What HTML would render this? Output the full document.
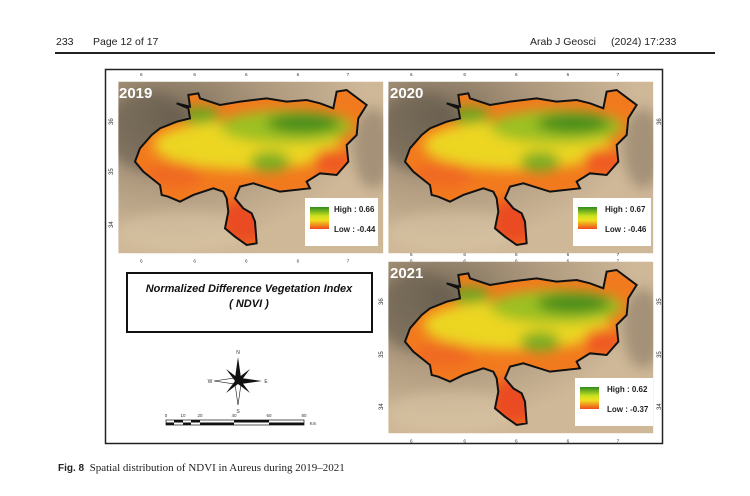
<!DOCTYPE html>
<html><head><meta charset="utf-8"><style>
html,body{margin:0;padding:0;background:#fff;}
body{width:750px;height:496px;position:relative;overflow:hidden;font-family:"Liberation Sans",sans-serif;}
.h{position:absolute;top:36px;font-size:10.5px;color:#222;font-family:"Liberation Sans Narrow","Liberation Sans",sans-serif;}
</style></head><body>
<div class="h" style="left:56px">233</div>
<div class="h" style="left:93px">Page 12 of 17</div>
<div class="h" style="left:530px">Arab J Geosci</div>
<div class="h" style="left:611px">(2024) 17:233</div>
<div style="position:absolute;left:55px;top:52px;width:660px;height:1.5px;background:#222"></div>
<div style="position:absolute;left:58px;top:462px;font-size:11px;font-family:'Liberation Serif',serif;color:#222"><b style="font-family:'Liberation Sans',sans-serif;font-size:10px">Fig. 8</b>&nbsp; Spatial distribution of NDVI in Aureus during 2019–2021</div>
<svg width="750" height="496" style="position:absolute;left:0;top:0" xmlns="http://www.w3.org/2000/svg">
<defs>
<radialGradient id="bgd" cx="0.2" cy="0.2" r="0.75"><stop offset="0" stop-color="#7a6d5a"/><stop offset="0.5" stop-color="#ad987d"/><stop offset="1" stop-color="#cfb898"/></radialGradient>
<linearGradient id="leg" x1="0" y1="0" x2="0" y2="1"><stop offset="0" stop-color="#2e8a1e"/><stop offset="0.4" stop-color="#c8e020"/><stop offset="0.6" stop-color="#f0e020"/><stop offset="1" stop-color="#f04a1a"/></linearGradient>
<filter id="bl" x="-50%" y="-50%" width="200%" height="200%"><feGaussianBlur stdDeviation="18"/></filter>
<clipPath id="rc"><rect x="55" y="50" width="795" height="515"/></clipPath>
<clipPath id="cp"><path id="shp" d="M230,115 L270,125 265,90 295,85 300,100 360,120 420,110 500,100 560,110 620,105 660,115 700,130 710,80 740,75 800,120 775,160 770,210 740,240 745,290 710,330 660,325 620,350 630,370 540,380 460,355 420,365 405,400 430,430 455,445 465,470 470,535 440,540 405,515 375,490 385,440 380,400 370,380 340,370 280,390 240,410 205,395 185,390 180,360 130,320 105,290 120,250 155,210 180,190 230,170 270,160 265,130 Z"/></clipPath>
<g id="panel">
<g clip-path="url(#rc)">
<rect x="55" y="50" width="795" height="515" fill="url(#bgd)"/>
<ellipse cx="150" cy="200" rx="130" ry="120" fill="#5e564a" opacity="0.5" filter="url(#bl)"/>
<ellipse cx="820" cy="250" rx="60" ry="120" fill="#7a6c58" opacity="0.5" filter="url(#bl)"/>
<ellipse cx="250" cy="500" rx="200" ry="60" fill="#d8c4a4" opacity="0.6" filter="url(#bl)"/>
</g>
<g clip-path="url(#cp)">
<rect x="90" y="70" width="730" height="480" fill="#f27a1e"/>
<g filter="url(#bl)">
<ellipse cx="440" cy="240" rx="280" ry="75" fill="#ecd624"/>
<ellipse cx="560" cy="185" rx="200" ry="50" fill="#9cc024"/>
<ellipse cx="610" cy="175" rx="110" ry="30" fill="#4a8e1e"/>
<ellipse cx="300" cy="150" rx="60" ry="25" fill="#6aa420"/>
<ellipse cx="510" cy="290" rx="60" ry="30" fill="#7aae22"/>
<ellipse cx="430" cy="470" rx="70" ry="70" fill="#ea4c22"/>
<ellipse cx="700" cy="290" rx="60" ry="40" fill="#ef5a20"/>
<ellipse cx="220" cy="330" rx="90" ry="40" fill="#f06a22"/>
</g>
</g>
<use href="#shp" fill="none" stroke="#111" stroke-width="6"/>
<g font-size="14" fill="#333" font-family="Liberation Sans">
<text x="120" y="33">6</text><text x="280" y="33">6</text><text x="435" y="33">6</text><text x="590" y="33">6</text><text x="740" y="33">7</text>
<text x="120" y="592">6</text><text x="280" y="592">6</text><text x="435" y="592">6</text><text x="590" y="592">6</text><text x="740" y="592">7</text>
</g>
</g>
</defs>
<rect x="105.5" y="69.5" width="557" height="374" fill="#fff" stroke="#222" stroke-width="1.5"/>
<use href="#panel" transform="translate(100,65) scale(0.3333)"/>
<use href="#panel" transform="translate(370,65) scale(0.3333)"/>
<use href="#panel" transform="translate(370,245) scale(0.3333)"/>
<g font-weight="bold" fill="#fff" font-size="15" font-family="Liberation Sans">
<text x="119" y="98">2019</text><text x="390" y="98">2020</text><text x="390" y="278">2021</text>
</g>
<g font-size="6" fill="#333">
<text x="113" y="125" transform="rotate(-90 113 125)">36</text>
<text x="113" y="175" transform="rotate(-90 113 175)">35</text>
<text x="113" y="228" transform="rotate(-90 113 228)">34</text>
<text x="661" y="125" transform="rotate(-90 661 125)">36</text>
<text x="661" y="305" transform="rotate(-90 661 305)">35</text>
<text x="661" y="358" transform="rotate(-90 661 358)">35</text>
<text x="661" y="410" transform="rotate(-90 661 410)">34</text>
<text x="383" y="305" transform="rotate(-90 383 305)">36</text>
<text x="383" y="358" transform="rotate(-90 383 358)">35</text>
<text x="383" y="410" transform="rotate(-90 383 410)">34</text>
</g>
<g font-size="8" font-weight="bold" fill="#222">
<rect x="305" y="198" width="73" height="48" fill="#fff"/>
<rect x="310" y="207" width="19" height="22" fill="url(#leg)"/>
<text x="334" y="212">High : 0.66</text><text x="334" y="232">Low : -0.44</text>
<rect x="573" y="198" width="78" height="48" fill="#fff"/>
<rect x="578" y="207" width="19" height="22" fill="url(#leg)"/>
<text x="605" y="212">High : 0.67</text><text x="605" y="232">Low : -0.46</text>
<rect x="575" y="378" width="78" height="48" fill="#fff"/>
<rect x="580" y="387" width="19" height="22" fill="url(#leg)"/>
<text x="607" y="392">High : 0.62</text><text x="607" y="412">Low : -0.37</text>
</g>
<rect x="127" y="273" width="245" height="59" fill="#fff" stroke="#111" stroke-width="2"/>
<text x="249" y="292" text-anchor="middle" font-size="11" font-weight="bold" font-style="italic" fill="#111">Normalized Difference Vegetation Index</text>
<text x="249" y="307" text-anchor="middle" font-size="11" font-weight="bold" font-style="italic" fill="#111">( NDVI )</text>
<g transform="translate(238,381)">
<polygon points="0,-24 3,-3 0,0 -3,-3" fill="#111"/><polygon points="0,24 3,3 0,0 -3,3" fill="#fff" stroke="#111" stroke-width="0.6"/>
<polygon points="-24,0 -3,3 0,0 -3,-3" fill="#fff" stroke="#111" stroke-width="0.6"/><polygon points="24,0 3,3 0,0 3,-3" fill="#111"/>
<polygon points="-12,-12 0,-3 0,0 -3,0" fill="#111"/><polygon points="12,-12 3,0 0,0 0,-3" fill="#111"/>
<polygon points="-12,12 -3,0 0,0 0,3" fill="#111"/><polygon points="12,12 0,3 0,0 3,0" fill="#111"/>
<g font-size="5" fill="#333" text-anchor="middle"><text x="0" y="-27">N</text><text x="0" y="32">S</text><text x="-28" y="2">W</text><text x="28" y="2">E</text></g>
</g>
<g font-size="4.5" fill="#333" text-anchor="middle">
<text x="166" y="417">0</text><text x="183" y="417">10</text><text x="200" y="417">20</text><text x="234" y="417">40</text><text x="269" y="417">60</text><text x="304" y="417">80</text><text x="313" y="425">Km</text>
</g>
<rect x="166" y="420" width="138" height="5" fill="#fff" stroke="#111" stroke-width="0.7"/>
<rect x="166" y="422.5" width="8" height="2.5" fill="#111"/><rect x="174" y="420" width="9" height="2.5" fill="#111"/>
<rect x="183" y="422.5" width="8" height="2.5" fill="#111"/><rect x="191" y="420" width="9" height="2.5" fill="#111"/>
<rect x="200" y="422.5" width="34" height="2.5" fill="#111"/><rect x="234" y="420" width="35" height="2.5" fill="#111"/>
<rect x="269" y="422.5" width="35" height="2.5" fill="#111"/>
</svg>
</body></html>
